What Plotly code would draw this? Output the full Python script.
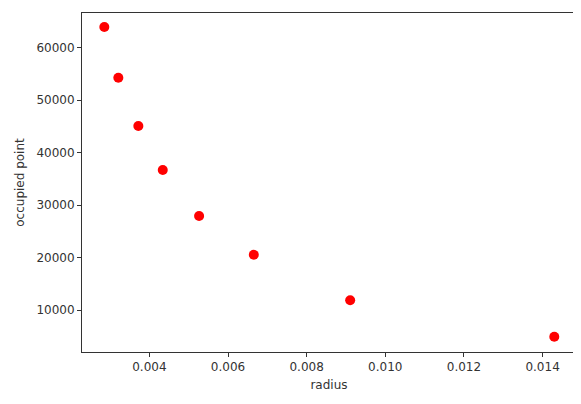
import plotly.graph_objects as go

radius = [0.002855, 0.003211, 0.00372, 0.004341, 0.005265, 0.006656, 0.009107, 0.014298]
occupied = [63943, 54286, 45086, 36705, 27943, 20571, 11905, 4971]

x_ticks = [0.004, 0.006, 0.008, 0.010, 0.012, 0.014]
x_labels = ["0.004", "0.006", "0.008", "0.010", "0.012", "0.014"]
y_ticks = [10000, 20000, 30000, 40000, 50000, 60000]
y_labels = ["10000", "20000", "30000", "40000", "50000", "60000"]

fig = go.Figure(
    go.Scatter(
        x=radius,
        y=occupied,
        mode="markers",
        marker=dict(color="red", size=10, line=dict(width=0))
    )
)

axis_style = dict(
    showgrid=False,
    zeroline=False,
    showline=True,
    linecolor="#333333",
    linewidth=1,
    mirror=True,
    ticks="outside",
    ticklen=4,
    tickwidth=1,
    tickcolor="#333333",
    automargin=False,
    tickfont=dict(family="DejaVu Sans", size=12, color="#333333"),
)

fig.update_xaxes(
    range=[0.002287, 0.01485],
    tickvals=x_ticks,
    ticktext=x_labels,
    title=dict(text="radius", font=dict(family="DejaVu Sans", size=12, color="#333333"), standoff=7),
    **axis_style
)
fig.update_yaxes(
    range=[2057, 66610],
    tickvals=y_ticks,
    ticktext=y_labels,
    title=dict(text="occupied point", font=dict(family="DejaVu Sans", size=12, color="#333333"), standoff=9),
    **axis_style
)

# page body has an 8px default margin, so the figure is sized to fit inside it
fig.update_layout(
    template="plotly_white",
    width=573,
    height=396,
    margin=dict(l=74, r=5, t=5, b=52),
    paper_bgcolor="white",
    plot_bgcolor="white",
    showlegend=False
)

fig.write_html("out.html")
